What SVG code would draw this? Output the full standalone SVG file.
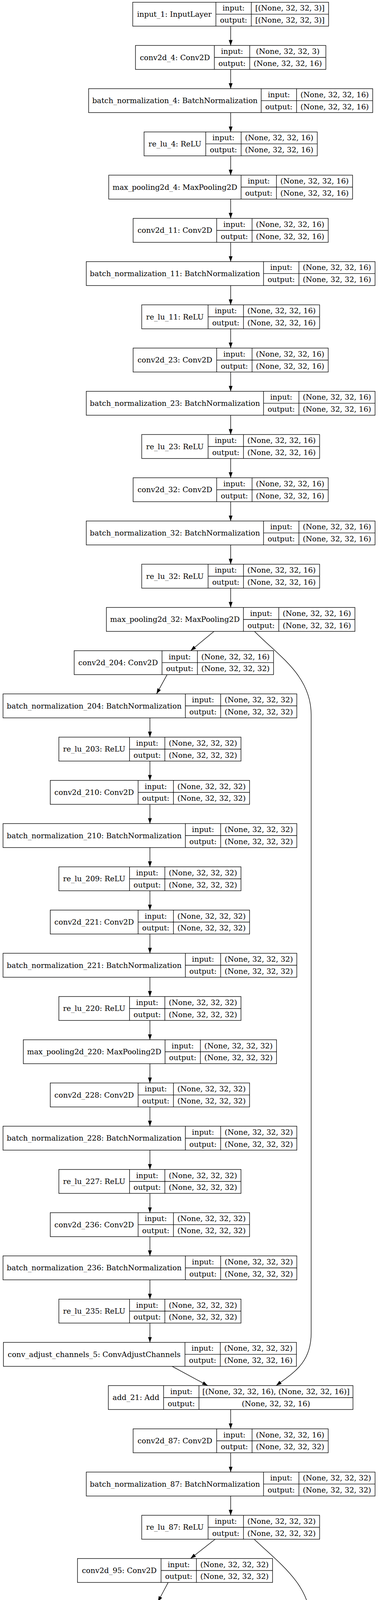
<svg xmlns="http://www.w3.org/2000/svg" width="981" height="5939" viewBox="0 0 981 5939">
<style>
.n rect{fill:#fff;stroke:#000;stroke-width:1.36}
.n path{fill:none;stroke:#000;stroke-width:1.36}
.n text{font-family:"DejaVu Serif",serif;font-size:19px;text-anchor:middle;fill:#000}
.e{fill:none;stroke:#000;stroke-width:1.36;marker-end:url(#arr)}
</style>
<defs>
<marker id="arr" markerUnits="userSpaceOnUse" markerWidth="14" markerHeight="10" viewBox="0 0 13.6 9.5" refX="13.6" refY="4.75" orient="auto"><path d="M0,0L13.6,4.75L0,9.5Z" fill="#000"/></marker>
</defs>
<rect width="981" height="5939" fill="#fff"/>
<g id="connectors">
<path class="e" d="M590.8,67V116.4"/>
<path class="e" d="M590.8,177.7V227"/>
<path class="e" d="M590.8,288.3V337.7"/>
<path class="e" d="M590.8,399V448.4"/>
<path class="e" d="M590.8,509.7V559.1"/>
<path class="e" d="M590.8,620.4V669.7"/>
<path class="e" d="M590.8,731V780.4"/>
<path class="e" d="M590.8,841.7V891.1"/>
<path class="e" d="M590.8,952.4V1001.7"/>
<path class="e" d="M590.8,1063V1112.4"/>
<path class="e" d="M590.8,1173.7V1223.1"/>
<path class="e" d="M590.8,1284.4V1333.7"/>
<path class="e" d="M590.8,1395V1444.4"/>
<path class="e" d="M590.8,1505.7V1555.1"/>
<path class="e" d="M548,1616.4L488.3,1665.75"/>
<path class="e" d="M652,1616.4C715,1680 797,1730 797,1830L797,3413C797,3490 750,3515 707.4,3547.1"/>
<path class="e" d="M428,1727.05L401,1776.4"/>
<path class="e" d="M384,1837.7V1887.1"/>
<path class="e" d="M384,1948.4V1997.8"/>
<path class="e" d="M384,2059.1V2108.4"/>
<path class="e" d="M384,2169.7V2219.1"/>
<path class="e" d="M384,2280.4V2329.8"/>
<path class="e" d="M384,2391.1V2440.4"/>
<path class="e" d="M384,2501.7V2551.1"/>
<path class="e" d="M384,2612.4V2661.8"/>
<path class="e" d="M384,2723.1V2772.45"/>
<path class="e" d="M384,2833.75V2883.1"/>
<path class="e" d="M384,2944.4V2993.8"/>
<path class="e" d="M384,3055.1V3104.5"/>
<path class="e" d="M384,3165.8V3215.1"/>
<path class="e" d="M384,3276.4V3325.8"/>
<path class="e" d="M384,3387.1V3436.5"/>
<path class="e" d="M441,3497.8L532,3547.1"/>
<path class="e" d="M590.8,3608.4V3657.8"/>
<path class="e" d="M590.8,3719.1V3768.5"/>
<path class="e" d="M590.8,3829.8V3879.15"/>
<path class="e" d="M551,3940.45L488,3989.8"/>
<path class="e" d="M651,3940.45C720,4005 795,4060 795,4150L795,5064C795,5140 735,5168 695,5207.2"/>
<path class="e" d="M430.7,4051.1L404.5,4100.5"/>
<path class="e" d="M386,4161.8L385,4211.2"/>
<path class="e" d="M384.4,4272.5L383.7,4321.8"/>
<path class="e" d="M382,4383.1L381,4432.5"/>
<path class="e" d="M381,4493.8V4543.2"/>
<path class="e" d="M381,4604.5V4653.8"/>
<path class="e" d="M381,4715.1V4764.5"/>
<path class="e" d="M381,4825.8V4875.2"/>
<path class="e" d="M385,4936.5L389.4,4985.85"/>
<path class="e" d="M402.5,5047.15L410.7,5096.5"/>
<path class="e" d="M469.5,5157.8L547.8,5207.2"/>
<path class="e" d="M600.2,5268.5V5317.9"/>
<path class="e" d="M600.2,5379.2V5428.5"/>
<path class="e" d="M600.2,5489.8V5539.2"/>
<path class="e" d="M600.2,5600.5V5649.9"/>
<path class="e" d="M600.2,5711.2V5760.5"/>
<path class="e" d="M600.2,5821.8V5871.2"/>
</g>
<g id="n1" class="n" transform="translate(340,5.7)"><rect width="501.6" height="61.3"/><path d="M213,0V61.3M303.6,0V61.3M213,30.65H501.6"/><text x="106.5" y="37.2">input_1: InputLayer</text><text x="258.3" y="21.8">input:</text><text x="258.3" y="52.5">output:</text><text x="402.6" y="21.8">[(None, 32, 32, 3)]</text><text x="402.6" y="52.5">[(None, 32, 32, 3)]</text></g>
<g id="n2" class="n" transform="translate(347,116.4)"><rect width="487.6" height="61.3"/><path d="M202,0V61.3M292.6,0V61.3M202,30.65H487.6"/><text x="101" y="37.2">conv2d_4: Conv2D</text><text x="247.3" y="21.8">input:</text><text x="247.3" y="52.5">output:</text><text x="390.1" y="21.8">(None, 32, 32, 3)</text><text x="390.1" y="52.5">(None, 32, 32, 16)</text></g>
<g id="n3" class="n" transform="translate(227,227)"><rect width="727.6" height="61.3"/><path d="M442,0V61.3M532.6,0V61.3M442,30.65H727.6"/><text x="221" y="37.2">batch_normalization_4: BatchNormalization</text><text x="487.3" y="21.8">input:</text><text x="487.3" y="52.5">output:</text><text x="630.1" y="21.8">(None, 32, 32, 16)</text><text x="630.1" y="52.5">(None, 32, 32, 16)</text></g>
<g id="n4" class="n" transform="translate(369,337.7)"><rect width="443.6" height="61.3"/><path d="M158,0V61.3M248.6,0V61.3M158,30.65H443.6"/><text x="79" y="37.2">re_lu_4: ReLU</text><text x="203.3" y="21.8">input:</text><text x="203.3" y="52.5">output:</text><text x="346.1" y="21.8">(None, 32, 32, 16)</text><text x="346.1" y="52.5">(None, 32, 32, 16)</text></g>
<g id="n5" class="n" transform="translate(278.5,448.4)"><rect width="624.6" height="61.3"/><path d="M339,0V61.3M429.6,0V61.3M339,30.65H624.6"/><text x="169.5" y="37.2">max_pooling2d_4: MaxPooling2D</text><text x="384.3" y="21.8">input:</text><text x="384.3" y="52.5">output:</text><text x="527.1" y="21.8">(None, 32, 32, 16)</text><text x="527.1" y="52.5">(None, 32, 32, 16)</text></g>
<g id="n6" class="n" transform="translate(341,559.1)"><rect width="499.6" height="61.3"/><path d="M214,0V61.3M304.6,0V61.3M214,30.65H499.6"/><text x="107" y="37.2">conv2d_11: Conv2D</text><text x="259.3" y="21.8">input:</text><text x="259.3" y="52.5">output:</text><text x="402.1" y="21.8">(None, 32, 32, 16)</text><text x="402.1" y="52.5">(None, 32, 32, 16)</text></g>
<g id="n7" class="n" transform="translate(221,669.7)"><rect width="739.6" height="61.3"/><path d="M454,0V61.3M544.6,0V61.3M454,30.65H739.6"/><text x="227" y="37.2">batch_normalization_11: BatchNormalization</text><text x="499.3" y="21.8">input:</text><text x="499.3" y="52.5">output:</text><text x="642.1" y="21.8">(None, 32, 32, 16)</text><text x="642.1" y="52.5">(None, 32, 32, 16)</text></g>
<g id="n8" class="n" transform="translate(363,780.4)"><rect width="455.6" height="61.3"/><path d="M170,0V61.3M260.6,0V61.3M170,30.65H455.6"/><text x="85" y="37.2">re_lu_11: ReLU</text><text x="215.3" y="21.8">input:</text><text x="215.3" y="52.5">output:</text><text x="358.1" y="21.8">(None, 32, 32, 16)</text><text x="358.1" y="52.5">(None, 32, 32, 16)</text></g>
<g id="n9" class="n" transform="translate(341,891.1)"><rect width="499.6" height="61.3"/><path d="M214,0V61.3M304.6,0V61.3M214,30.65H499.6"/><text x="107" y="37.2">conv2d_23: Conv2D</text><text x="259.3" y="21.8">input:</text><text x="259.3" y="52.5">output:</text><text x="402.1" y="21.8">(None, 32, 32, 16)</text><text x="402.1" y="52.5">(None, 32, 32, 16)</text></g>
<g id="n10" class="n" transform="translate(221,1001.7)"><rect width="739.6" height="61.3"/><path d="M454,0V61.3M544.6,0V61.3M454,30.65H739.6"/><text x="227" y="37.2">batch_normalization_23: BatchNormalization</text><text x="499.3" y="21.8">input:</text><text x="499.3" y="52.5">output:</text><text x="642.1" y="21.8">(None, 32, 32, 16)</text><text x="642.1" y="52.5">(None, 32, 32, 16)</text></g>
<g id="n11" class="n" transform="translate(363,1112.4)"><rect width="455.6" height="61.3"/><path d="M170,0V61.3M260.6,0V61.3M170,30.65H455.6"/><text x="85" y="37.2">re_lu_23: ReLU</text><text x="215.3" y="21.8">input:</text><text x="215.3" y="52.5">output:</text><text x="358.1" y="21.8">(None, 32, 32, 16)</text><text x="358.1" y="52.5">(None, 32, 32, 16)</text></g>
<g id="n12" class="n" transform="translate(341,1223.1)"><rect width="499.6" height="61.3"/><path d="M214,0V61.3M304.6,0V61.3M214,30.65H499.6"/><text x="107" y="37.2">conv2d_32: Conv2D</text><text x="259.3" y="21.8">input:</text><text x="259.3" y="52.5">output:</text><text x="402.1" y="21.8">(None, 32, 32, 16)</text><text x="402.1" y="52.5">(None, 32, 32, 16)</text></g>
<g id="n13" class="n" transform="translate(221,1333.7)"><rect width="739.6" height="61.3"/><path d="M454,0V61.3M544.6,0V61.3M454,30.65H739.6"/><text x="227" y="37.2">batch_normalization_32: BatchNormalization</text><text x="499.3" y="21.8">input:</text><text x="499.3" y="52.5">output:</text><text x="642.1" y="21.8">(None, 32, 32, 16)</text><text x="642.1" y="52.5">(None, 32, 32, 16)</text></g>
<g id="n14" class="n" transform="translate(363,1444.4)"><rect width="455.6" height="61.3"/><path d="M170,0V61.3M260.6,0V61.3M170,30.65H455.6"/><text x="85" y="37.2">re_lu_32: ReLU</text><text x="215.3" y="21.8">input:</text><text x="215.3" y="52.5">output:</text><text x="358.1" y="21.8">(None, 32, 32, 16)</text><text x="358.1" y="52.5">(None, 32, 32, 16)</text></g>
<g id="n15" class="n" transform="translate(272.5,1555.1)"><rect width="636.6" height="61.3"/><path d="M351,0V61.3M441.6,0V61.3M351,30.65H636.6"/><text x="175.5" y="37.2">max_pooling2d_32: MaxPooling2D</text><text x="396.3" y="21.8">input:</text><text x="396.3" y="52.5">output:</text><text x="539.1" y="21.8">(None, 32, 32, 16)</text><text x="539.1" y="52.5">(None, 32, 32, 16)</text></g>
<g id="n16" class="n" transform="translate(190,1665.75)"><rect width="510.6" height="61.3"/><path d="M225,0V61.3M315.6,0V61.3M225,30.65H510.6"/><text x="112.5" y="37.2">conv2d_204: Conv2D</text><text x="270.3" y="21.8">input:</text><text x="270.3" y="52.5">output:</text><text x="413.1" y="21.8">(None, 32, 32, 16)</text><text x="413.1" y="52.5">(None, 32, 32, 32)</text></g>
<g id="n17" class="n" transform="translate(7.7,1776.4)"><rect width="752.6" height="61.3"/><path d="M467,0V61.3M557.6,0V61.3M467,30.65H752.6"/><text x="233.5" y="37.2">batch_normalization_204: BatchNormalization</text><text x="512.3" y="21.8">input:</text><text x="512.3" y="52.5">output:</text><text x="655.1" y="21.8">(None, 32, 32, 32)</text><text x="655.1" y="52.5">(None, 32, 32, 32)</text></g>
<g id="n18" class="n" transform="translate(150.7,1887.1)"><rect width="466.6" height="61.3"/><path d="M181,0V61.3M271.6,0V61.3M181,30.65H466.6"/><text x="90.5" y="37.2">re_lu_203: ReLU</text><text x="226.3" y="21.8">input:</text><text x="226.3" y="52.5">output:</text><text x="369.1" y="21.8">(None, 32, 32, 32)</text><text x="369.1" y="52.5">(None, 32, 32, 32)</text></g>
<g id="n19" class="n" transform="translate(128.7,1997.8)"><rect width="510.6" height="61.3"/><path d="M225,0V61.3M315.6,0V61.3M225,30.65H510.6"/><text x="112.5" y="37.2">conv2d_210: Conv2D</text><text x="270.3" y="21.8">input:</text><text x="270.3" y="52.5">output:</text><text x="413.1" y="21.8">(None, 32, 32, 32)</text><text x="413.1" y="52.5">(None, 32, 32, 32)</text></g>
<g id="n20" class="n" transform="translate(7.7,2108.4)"><rect width="752.6" height="61.3"/><path d="M467,0V61.3M557.6,0V61.3M467,30.65H752.6"/><text x="233.5" y="37.2">batch_normalization_210: BatchNormalization</text><text x="512.3" y="21.8">input:</text><text x="512.3" y="52.5">output:</text><text x="655.1" y="21.8">(None, 32, 32, 32)</text><text x="655.1" y="52.5">(None, 32, 32, 32)</text></g>
<g id="n21" class="n" transform="translate(150.7,2219.1)"><rect width="466.6" height="61.3"/><path d="M181,0V61.3M271.6,0V61.3M181,30.65H466.6"/><text x="90.5" y="37.2">re_lu_209: ReLU</text><text x="226.3" y="21.8">input:</text><text x="226.3" y="52.5">output:</text><text x="369.1" y="21.8">(None, 32, 32, 32)</text><text x="369.1" y="52.5">(None, 32, 32, 32)</text></g>
<g id="n22" class="n" transform="translate(128.7,2329.8)"><rect width="510.6" height="61.3"/><path d="M225,0V61.3M315.6,0V61.3M225,30.65H510.6"/><text x="112.5" y="37.2">conv2d_221: Conv2D</text><text x="270.3" y="21.8">input:</text><text x="270.3" y="52.5">output:</text><text x="413.1" y="21.8">(None, 32, 32, 32)</text><text x="413.1" y="52.5">(None, 32, 32, 32)</text></g>
<g id="n23" class="n" transform="translate(7.7,2440.4)"><rect width="752.6" height="61.3"/><path d="M467,0V61.3M557.6,0V61.3M467,30.65H752.6"/><text x="233.5" y="37.2">batch_normalization_221: BatchNormalization</text><text x="512.3" y="21.8">input:</text><text x="512.3" y="52.5">output:</text><text x="655.1" y="21.8">(None, 32, 32, 32)</text><text x="655.1" y="52.5">(None, 32, 32, 32)</text></g>
<g id="n24" class="n" transform="translate(150.7,2551.1)"><rect width="466.6" height="61.3"/><path d="M181,0V61.3M271.6,0V61.3M181,30.65H466.6"/><text x="90.5" y="37.2">re_lu_220: ReLU</text><text x="226.3" y="21.8">input:</text><text x="226.3" y="52.5">output:</text><text x="369.1" y="21.8">(None, 32, 32, 32)</text><text x="369.1" y="52.5">(None, 32, 32, 32)</text></g>
<g id="n25" class="n" transform="translate(59.7,2661.8)"><rect width="648.6" height="61.3"/><path d="M363,0V61.3M453.6,0V61.3M363,30.65H648.6"/><text x="181.5" y="37.2">max_pooling2d_220: MaxPooling2D</text><text x="408.3" y="21.8">input:</text><text x="408.3" y="52.5">output:</text><text x="551.1" y="21.8">(None, 32, 32, 32)</text><text x="551.1" y="52.5">(None, 32, 32, 32)</text></g>
<g id="n26" class="n" transform="translate(128.7,2772.45)"><rect width="510.6" height="61.3"/><path d="M225,0V61.3M315.6,0V61.3M225,30.65H510.6"/><text x="112.5" y="37.2">conv2d_228: Conv2D</text><text x="270.3" y="21.8">input:</text><text x="270.3" y="52.5">output:</text><text x="413.1" y="21.8">(None, 32, 32, 32)</text><text x="413.1" y="52.5">(None, 32, 32, 32)</text></g>
<g id="n27" class="n" transform="translate(7.7,2883.1)"><rect width="752.6" height="61.3"/><path d="M467,0V61.3M557.6,0V61.3M467,30.65H752.6"/><text x="233.5" y="37.2">batch_normalization_228: BatchNormalization</text><text x="512.3" y="21.8">input:</text><text x="512.3" y="52.5">output:</text><text x="655.1" y="21.8">(None, 32, 32, 32)</text><text x="655.1" y="52.5">(None, 32, 32, 32)</text></g>
<g id="n28" class="n" transform="translate(150.7,2993.8)"><rect width="466.6" height="61.3"/><path d="M181,0V61.3M271.6,0V61.3M181,30.65H466.6"/><text x="90.5" y="37.2">re_lu_227: ReLU</text><text x="226.3" y="21.8">input:</text><text x="226.3" y="52.5">output:</text><text x="369.1" y="21.8">(None, 32, 32, 32)</text><text x="369.1" y="52.5">(None, 32, 32, 32)</text></g>
<g id="n29" class="n" transform="translate(128.7,3104.5)"><rect width="510.6" height="61.3"/><path d="M225,0V61.3M315.6,0V61.3M225,30.65H510.6"/><text x="112.5" y="37.2">conv2d_236: Conv2D</text><text x="270.3" y="21.8">input:</text><text x="270.3" y="52.5">output:</text><text x="413.1" y="21.8">(None, 32, 32, 32)</text><text x="413.1" y="52.5">(None, 32, 32, 32)</text></g>
<g id="n30" class="n" transform="translate(7.7,3215.1)"><rect width="752.6" height="61.3"/><path d="M467,0V61.3M557.6,0V61.3M467,30.65H752.6"/><text x="233.5" y="37.2">batch_normalization_236: BatchNormalization</text><text x="512.3" y="21.8">input:</text><text x="512.3" y="52.5">output:</text><text x="655.1" y="21.8">(None, 32, 32, 32)</text><text x="655.1" y="52.5">(None, 32, 32, 32)</text></g>
<g id="n31" class="n" transform="translate(150.7,3325.8)"><rect width="466.6" height="61.3"/><path d="M181,0V61.3M271.6,0V61.3M181,30.65H466.6"/><text x="90.5" y="37.2">re_lu_235: ReLU</text><text x="226.3" y="21.8">input:</text><text x="226.3" y="52.5">output:</text><text x="369.1" y="21.8">(None, 32, 32, 32)</text><text x="369.1" y="52.5">(None, 32, 32, 32)</text></g>
<g id="n32" class="n" transform="translate(8.7,3436.5)"><rect width="750.6" height="61.3"/><path d="M465,0V61.3M555.6,0V61.3M465,30.65H750.6"/><text x="232.5" y="37.2">conv_adjust_channels_5: ConvAdjustChannels</text><text x="510.3" y="21.8">input:</text><text x="510.3" y="52.5">output:</text><text x="653.1" y="21.8">(None, 32, 32, 32)</text><text x="653.1" y="52.5">(None, 32, 32, 16)</text></g>
<g id="n33" class="n" transform="translate(277.5,3547.1)"><rect width="626.6" height="61.3"/><path d="M141.5,0V61.3M232.1,0V61.3M141.5,30.65H626.6"/><text x="70.75" y="37.2">add_21: Add</text><text x="186.8" y="21.8">input:</text><text x="186.8" y="52.5">output:</text><text x="429.35" y="21.8">[(None, 32, 32, 16), (None, 32, 32, 16)]</text><text x="429.35" y="52.5">(None, 32, 32, 16)</text></g>
<g id="n34" class="n" transform="translate(341,3657.8)"><rect width="499.6" height="61.3"/><path d="M214,0V61.3M304.6,0V61.3M214,30.65H499.6"/><text x="107" y="37.2">conv2d_87: Conv2D</text><text x="259.3" y="21.8">input:</text><text x="259.3" y="52.5">output:</text><text x="402.1" y="21.8">(None, 32, 32, 16)</text><text x="402.1" y="52.5">(None, 32, 32, 32)</text></g>
<g id="n35" class="n" transform="translate(221,3768.5)"><rect width="739.6" height="61.3"/><path d="M454,0V61.3M544.6,0V61.3M454,30.65H739.6"/><text x="227" y="37.2">batch_normalization_87: BatchNormalization</text><text x="499.3" y="21.8">input:</text><text x="499.3" y="52.5">output:</text><text x="642.1" y="21.8">(None, 32, 32, 32)</text><text x="642.1" y="52.5">(None, 32, 32, 32)</text></g>
<g id="n36" class="n" transform="translate(363,3879.15)"><rect width="455.6" height="61.3"/><path d="M170,0V61.3M260.6,0V61.3M170,30.65H455.6"/><text x="85" y="37.2">re_lu_87: ReLU</text><text x="215.3" y="21.8">input:</text><text x="215.3" y="52.5">output:</text><text x="358.1" y="21.8">(None, 32, 32, 32)</text><text x="358.1" y="52.5">(None, 32, 32, 32)</text></g>
<g id="n37" class="n" transform="translate(198.5,3989.8)"><rect width="499.6" height="61.3"/><path d="M214,0V61.3M304.6,0V61.3M214,30.65H499.6"/><text x="107" y="37.2">conv2d_95: Conv2D</text><text x="259.3" y="21.8">input:</text><text x="259.3" y="52.5">output:</text><text x="402.1" y="21.8">(None, 32, 32, 32)</text><text x="402.1" y="52.5">(None, 32, 32, 32)</text></g>
<g id="n38" class="n" transform="translate(16.9,4100.5)"><rect width="739.6" height="61.3"/><path d="M454,0V61.3M544.6,0V61.3M454,30.65H739.6"/><text x="227" y="37.2">batch_normalization_95: BatchNormalization</text><text x="499.3" y="21.8">input:</text><text x="499.3" y="52.5">output:</text><text x="642.1" y="21.8">(None, 32, 32, 32)</text><text x="642.1" y="52.5">(None, 32, 32, 32)</text></g>
<g id="n39" class="n" transform="translate(157.7,4211.2)"><rect width="455.6" height="61.3"/><path d="M170,0V61.3M260.6,0V61.3M170,30.65H455.6"/><text x="85" y="37.2">re_lu_95: ReLU</text><text x="215.3" y="21.8">input:</text><text x="215.3" y="52.5">output:</text><text x="358.1" y="21.8">(None, 32, 32, 32)</text><text x="358.1" y="52.5">(None, 32, 32, 32)</text></g>
<g id="n40" class="n" transform="translate(133,4321.8)"><rect width="499.6" height="61.3"/><path d="M214,0V61.3M304.6,0V61.3M214,30.65H499.6"/><text x="107" y="37.2">conv2d_96: Conv2D</text><text x="259.3" y="21.8">input:</text><text x="259.3" y="52.5">output:</text><text x="402.1" y="21.8">(None, 32, 32, 32)</text><text x="402.1" y="52.5">(None, 32, 32, 32)</text></g>
<g id="n41" class="n" transform="translate(11.3,4432.5)"><rect width="739.6" height="61.3"/><path d="M454,0V61.3M544.6,0V61.3M454,30.65H739.6"/><text x="227" y="37.2">batch_normalization_96: BatchNormalization</text><text x="499.3" y="21.8">input:</text><text x="499.3" y="52.5">output:</text><text x="642.1" y="21.8">(None, 32, 32, 32)</text><text x="642.1" y="52.5">(None, 32, 32, 32)</text></g>
<g id="n42" class="n" transform="translate(153.4,4543.2)"><rect width="455.6" height="61.3"/><path d="M170,0V61.3M260.6,0V61.3M170,30.65H455.6"/><text x="85" y="37.2">re_lu_96: ReLU</text><text x="215.3" y="21.8">input:</text><text x="215.3" y="52.5">output:</text><text x="358.1" y="21.8">(None, 32, 32, 32)</text><text x="358.1" y="52.5">(None, 32, 32, 32)</text></g>
<g id="n43" class="n" transform="translate(63,4653.8)"><rect width="636.6" height="61.3"/><path d="M351,0V61.3M441.6,0V61.3M351,30.65H636.6"/><text x="175.5" y="37.2">max_pooling2d_96: MaxPooling2D</text><text x="396.3" y="21.8">input:</text><text x="396.3" y="52.5">output:</text><text x="539.1" y="21.8">(None, 32, 32, 32)</text><text x="539.1" y="52.5">(None, 32, 32, 32)</text></g>
<g id="n44" class="n" transform="translate(125.8,4764.5)"><rect width="510.6" height="61.3"/><path d="M225,0V61.3M315.6,0V61.3M225,30.65H510.6"/><text x="112.5" y="37.2">conv2d_106: Conv2D</text><text x="270.3" y="21.8">input:</text><text x="270.3" y="52.5">output:</text><text x="413.1" y="21.8">(None, 32, 32, 32)</text><text x="413.1" y="52.5">(None, 32, 32, 32)</text></g>
<g id="n45" class="n" transform="translate(5,4875.2)"><rect width="752.6" height="61.3"/><path d="M467,0V61.3M557.6,0V61.3M467,30.65H752.6"/><text x="233.5" y="37.2">batch_normalization_106: BatchNormalization</text><text x="512.3" y="21.8">input:</text><text x="512.3" y="52.5">output:</text><text x="655.1" y="21.8">(None, 32, 32, 32)</text><text x="655.1" y="52.5">(None, 32, 32, 32)</text></g>
<g id="n46" class="n" transform="translate(161.5,4985.85)"><rect width="466.6" height="61.3"/><path d="M181,0V61.3M271.6,0V61.3M181,30.65H466.6"/><text x="90.5" y="37.2">re_lu_106: ReLU</text><text x="226.3" y="21.8">input:</text><text x="226.3" y="52.5">output:</text><text x="369.1" y="21.8">(None, 32, 32, 32)</text><text x="369.1" y="52.5">(None, 32, 32, 32)</text></g>
<g id="n47" class="n" transform="translate(95.8,5096.5)"><rect width="648.6" height="61.3"/><path d="M363,0V61.3M453.6,0V61.3M363,30.65H648.6"/><text x="181.5" y="37.2">max_pooling2d_106: MaxPooling2D</text><text x="408.3" y="21.8">input:</text><text x="408.3" y="52.5">output:</text><text x="551.1" y="21.8">(None, 32, 32, 32)</text><text x="551.1" y="52.5">(None, 32, 32, 32)</text></g>
<g id="n48" class="n" transform="translate(286.7,5207.2)"><rect width="627.1" height="61.3"/><path d="M141.5,0V61.3M232.1,0V61.3M141.5,30.65H627.1"/><text x="70.75" y="37.2">add_22: Add</text><text x="186.8" y="21.8">input:</text><text x="186.8" y="52.5">output:</text><text x="429.6" y="21.8">[(None, 32, 32, 32), (None, 32, 32, 32)]</text><text x="429.6" y="52.5">(None, 32, 32, 32)</text></g>
<g id="n49" class="n" transform="translate(344.9,5317.9)"><rect width="510.6" height="61.3"/><path d="M225,0V61.3M315.6,0V61.3M225,30.65H510.6"/><text x="112.5" y="37.2">conv2d_113: Conv2D</text><text x="270.3" y="21.8">input:</text><text x="270.3" y="52.5">output:</text><text x="413.1" y="21.8">(None, 32, 32, 32)</text><text x="413.1" y="52.5">(None, 32, 32, 32)</text></g>
<g id="n50" class="n" transform="translate(224,5428.5)"><rect width="752.6" height="61.3"/><path d="M467,0V61.3M557.6,0V61.3M467,30.65H752.6"/><text x="233.5" y="37.2">batch_normalization_113: BatchNormalization</text><text x="512.3" y="21.8">input:</text><text x="512.3" y="52.5">output:</text><text x="655.1" y="21.8">(None, 32, 32, 32)</text><text x="655.1" y="52.5">(None, 32, 32, 32)</text></g>
<g id="n51" class="n" transform="translate(366.9,5539.2)"><rect width="466.6" height="61.3"/><path d="M181,0V61.3M271.6,0V61.3M181,30.65H466.6"/><text x="90.5" y="37.2">re_lu_113: ReLU</text><text x="226.3" y="21.8">input:</text><text x="226.3" y="52.5">output:</text><text x="369.1" y="21.8">(None, 32, 32, 32)</text><text x="369.1" y="52.5">(None, 32, 32, 32)</text></g>
<g id="n52" class="n" transform="translate(351.7,5649.9)"><rect width="497.1" height="61.3"/><path d="M211.5,0V61.3M302.1,0V61.3M211.5,30.65H497.1"/><text x="105.75" y="37.2">flatten_145: Flatten</text><text x="256.8" y="21.8">input:</text><text x="256.8" y="52.5">output:</text><text x="399.6" y="21.8">(None, 32, 32, 32)</text><text x="399.6" y="52.5">(None, 32768)</text></g>
<g id="n53" class="n" transform="translate(378.7,5760.5)"><rect width="443.1" height="61.3"/><path d="M194.5,0V61.3M285.1,0V61.3M194.5,30.65H443.1"/><text x="97.25" y="37.2">dense_290: Dense</text><text x="239.8" y="21.8">input:</text><text x="239.8" y="52.5">output:</text><text x="364.1" y="21.8">(None, 32768)</text><text x="364.1" y="52.5">(None, 256)</text></g>
<g id="n54" class="n" transform="translate(390.4,5871.2)"><rect width="419.6" height="61.3"/><path d="M194.5,0V61.3M285.1,0V61.3M194.5,30.65H419.6"/><text x="97.25" y="37.2">dense_291: Dense</text><text x="239.8" y="21.8">input:</text><text x="239.8" y="52.5">output:</text><text x="352.35" y="21.8">(None, 256)</text><text x="352.35" y="52.5">(None, 10)</text></g>
</svg>
